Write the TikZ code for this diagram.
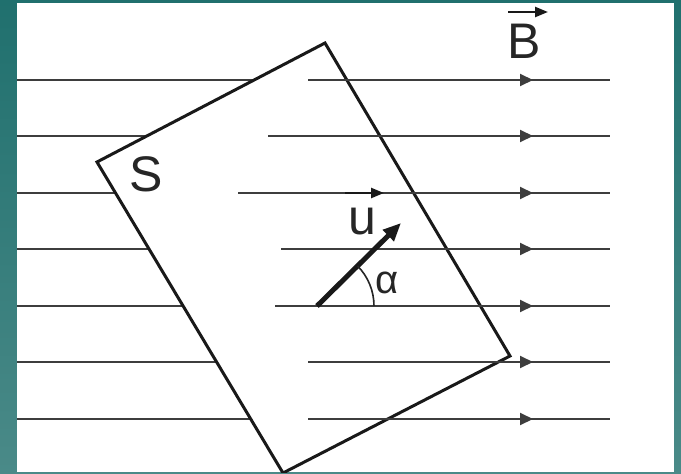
\documentclass[tikz,border=0pt]{standalone}
\usepackage{fontspec}
\setmainfont{Liberation Sans}
\usetikzlibrary{arrows.meta}
\definecolor{tealtop}{RGB}{32,112,110}
\definecolor{tealbot}{RGB}{74,138,136}
\definecolor{ink}{RGB}{40,40,40}
\begin{document}
\begin{tikzpicture}[x=1pt,y=-1pt,
  field/.style={line width=2pt, draw=ink!90},
  fieldtip/.style={field, -{Triangle[length=13pt,width=12pt]}},
  frame/.style={line width=3pt, draw=black!90, fill=white, line join=miter},
  vecbar/.style={line width=2.4pt, draw=black!90, -{Triangle[length=13pt,width=10pt]}},
  uvec/.style={line width=5pt, draw=black!90, -{Triangle[length=18pt,width=15pt]}},
  lbl/.style={inner sep=0pt, font=\fontsize{50}{60}\selectfont, text=black!85},
  lblsmall/.style={inner sep=0pt, font=\fontsize{40}{48}\selectfont, text=black!85}]
\useasboundingbox (0,0) rectangle (681,474);
\shade[top color=tealtop, bottom color=tealbot] (0,0) rectangle (681,474);
\fill[white] (17,3) rectangle (674,472);
\begin{scope}
  \clip (17,3) rectangle (674,472);
  % full field lines
  \foreach \yy in {80,136,193,249,306,362,419}{
    \draw[fieldtip] (17,\yy) -- (533,\yy);
    \draw[field] (525,\yy) -- (610,\yy);
  }
  % plane S
  \coordinate (T) at (325,43);
  \coordinate (R) at (510,356);
  \coordinate (Bo) at (283,473);
  \coordinate (L) at (97,162);
  \draw[frame] (T) -- (R) -- (Bo) -- (L) -- cycle;
  % field lines visible inside the plane
  \foreach \xs/\yy in {308/80,268/136,238/193,281/249,275/306,308/362,308/419}{
    \draw[field] (\xs,\yy) -- (610,\yy);
  }
\end{scope}
% labels
\node[lbl] (B) at (524,41.5) {B};
\coordinate (Bs) at (508,12);
\coordinate (Be) at (548,12);
\draw[vecbar] (Bs) -- (Be);
\node[lbl] (S) at (146,174.5) {S};
\node[lbl] (u) at (362.5,221.5) {u};
\coordinate (us) at (345,193);
\coordinate (ue) at (384,193);
\draw[vecbar] (us) -- (ue);
% vector u
\coordinate (O) at (317,306);
\coordinate (U) at (401,223);
\draw[uvec] (O) -- (U);
% angle
\draw[line width=1.6pt, draw=black!85] (374,306) arc[start angle=0, end angle=-44.6, radius=57];
\node[lblsmall] (a) at (387.5,282.5) {α};
\end{tikzpicture}
\end{document}
